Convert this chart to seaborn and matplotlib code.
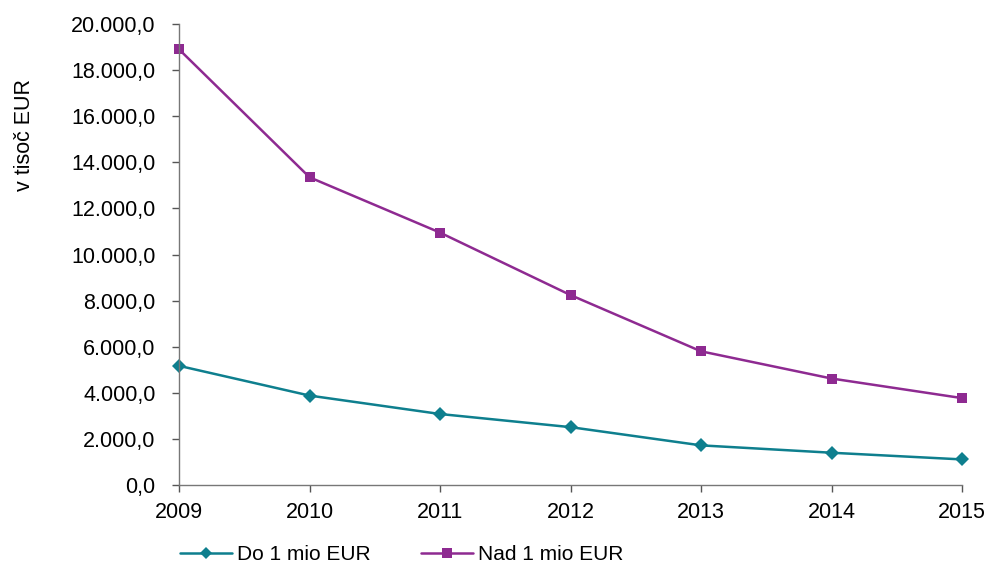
import pandas as pd
import matplotlib.pyplot as plt
import matplotlib.ticker as mticker
import seaborn as sns

# podatki
leta = [2009, 2010, 2011, 2012, 2013, 2014, 2015]
do_1_mio = [5170, 3880, 3080, 2510, 1720, 1400, 1110]
nad_1_mio = [18900, 13350, 10950, 8240, 5800, 4620, 3770]
serije = ['Do 1 mio EUR', 'Nad 1 mio EUR']

df = pd.DataFrame({
    'leto': leta * 2,
    'vrednost': do_1_mio + nad_1_mio,
    'serija': [serije[0]] * len(leta) + [serije[1]] * len(leta),
})

sns.set_style('white')
plt.rcParams['font.family'] = ['Liberation Sans', 'DejaVu Sans']
plt.rcParams['text.color'] = 'black'
plt.rcParams['axes.labelcolor'] = 'black'

barve = {serije[0]: '#0E7F8E', serije[1]: '#8E2A91'}
markerji = {serije[0]: 'D', serije[1]: 's'}

fig = plt.figure(figsize=(9.87, 5.66), dpi=100)
ax = fig.add_axes([0.1814, 0.1431, 0.7933, 0.8145])

sns.lineplot(data=df, x='leto', y='vrednost', hue='serija', style='serija',
             palette=barve, markers=markerji, dashes=False, linewidth=1.8,
             markersize=7, markeredgewidth=0, ax=ax, legend=False)
for ln in ax.lines:
    ln.set_clip_on(False)

ax.set_xlim(2009, 2015)
ax.set_ylim(0, 20000)
ax.set_xticks(leta)
ax.set_yticks(range(0, 20001, 2000))
ax.yaxis.set_major_formatter(mticker.FuncFormatter(
    lambda v, p: f'{v:,.1f}'.replace(',', 'X').replace('.', ',').replace('X', '.')))

ax.set_xlabel('')
ax.set_ylabel('v tisoč EUR', fontsize=15.5)
ax.yaxis.set_label_coords(-0.184, 0.76)
ax.tick_params(axis='both', labelsize=15.5, direction='out', length=5, width=1,
               color='#555555', labelcolor='black', left=True, bottom=True)
ax.tick_params(axis='y', pad=12)
ax.tick_params(axis='x', pad=7)

for s in ['top', 'right']:
    ax.spines[s].set_visible(False)
for s in ['left', 'bottom']:
    ax.spines[s].set_color('#777777')
    ax.spines[s].set_linewidth(1)

handles = [plt.Line2D([], [], color=barve[s], marker=markerji[s], lw=1.8,
                      markersize=7 if s == serije[1] else 6, markeredgewidth=0)
           for s in serije]
fig.legend(handles, serije, loc='center left', bbox_to_anchor=(0.163, 0.02),
           ncol=2, frameon=False, fontsize=15, handlelength=2.5,
           handletextpad=0.25, columnspacing=2.4)

fig.savefig('out.png', dpi=100)
